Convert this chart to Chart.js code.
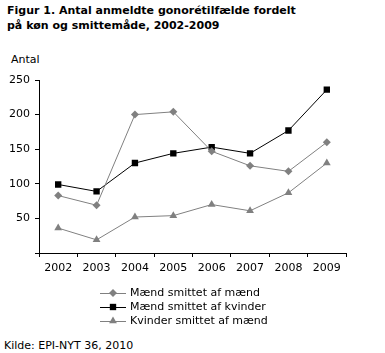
<!DOCTYPE html>
<html><head><meta charset="utf-8">
<script src="https://cdn.jsdelivr.net/npm/chart.js@4/dist/chart.umd.min.js"></script>
<style>
html,body{margin:0;padding:0;background:#fff;}
body{width:385px;height:353px;position:relative;overflow:hidden;font-family:"DejaVu Sans",Verdana,sans-serif;}
#t{position:absolute;left:7px;top:3px;font-weight:bold;font-size:11px;line-height:15px;color:#000;}
#a{position:absolute;left:11px;top:53px;font-size:11px;color:#000;}
#k{position:absolute;left:4px;top:339px;font-size:11px;color:#000;}
#c{position:absolute;left:0;top:0;}
</style></head><body>
<div id="t">Figur 1. Antal anmeldte gonorétilfælde fordelt<br>på køn og smittemåde, 2002-2009</div>
<div id="a">Antal</div>
<div id="k">Kilde: EPI-NYT 36, 2010</div>
<canvas id="c" width="385" height="353"></canvas>
<script>
const years = ["2002","2003","2004","2005","2006","2007","2008","2009"];
const maendAfMaend = [83, 69, 200, 204, 147, 126, 118, 160];
const maendAfKvinder = [99, 89, 130, 144, 153, 144, 177, 236];
const kvinderAfMaend = [36, 19, 52, 54, 70, 61, 87, 130];
const seriesNames = ["Mænd smittet af mænd", "Mænd smittet af kvinder", "Kvinder smittet af mænd"];
const yTicks = [0, 50, 100, 150, 200, 250];

const legendPlugin = {
  id: 'customLegend',
  afterDraw(chart) {
    const ctx = chart.ctx;
    const rows = [293, 307, 321];
    chart.data.datasets.forEach((ds, i) => {
      const y = rows[i];
      ctx.save();
      ctx.strokeStyle = ds.borderColor; ctx.lineWidth = 1;
      ctx.beginPath(); ctx.moveTo(100, y + 0.5); ctx.lineTo(126, y + 0.5); ctx.stroke();
      ctx.fillStyle = ds.pointBackgroundColor;
      const x = 113, r = ds.pointRadius;
      ctx.beginPath();
      if (ds.pointStyle === 'rectRot') {
        ctx.moveTo(x - r, y); ctx.lineTo(x, y - r); ctx.lineTo(x + r, y); ctx.lineTo(x, y + r);
      } else if (ds.pointStyle === 'rect') {
        const s = r * Math.SQRT1_2; ctx.rect(x - s, y - s, 2 * s, 2 * s);
      } else {
        ctx.moveTo(x, y - r);
        ctx.lineTo(x + Math.sin(2*Math.PI/3) * r, y - Math.cos(2*Math.PI/3) * r);
        ctx.lineTo(x + Math.sin(4*Math.PI/3) * r, y - Math.cos(4*Math.PI/3) * r);
      }
      ctx.closePath(); ctx.fill();
      ctx.fillStyle = '#000';
      ctx.font = '11px "DejaVu Sans", Verdana, sans-serif';
      ctx.textBaseline = 'middle'; ctx.textAlign = 'left';
      ctx.fillText(ds.label, 130, y);
      ctx.restore();
    });
  }
};

new Chart(document.getElementById('c'), {
  type: 'line',
  data: {
    labels: years,
    datasets: [
      { label: seriesNames[0], data: maendAfMaend, borderColor: '#808080', backgroundColor: '#808080',
        pointBackgroundColor: '#808080', pointBorderWidth: 0, pointStyle: 'rectRot', pointRadius: 4, borderWidth: 1 },
      { label: seriesNames[1], data: maendAfKvinder, borderColor: '#000000', backgroundColor: '#000000',
        pointBackgroundColor: '#000000', pointBorderWidth: 0, pointStyle: 'rect', pointRadius: 4.5, borderWidth: 1 },
      { label: seriesNames[2], data: kvinderAfMaend, borderColor: '#808080', backgroundColor: '#808080',
        pointBackgroundColor: '#808080', pointBorderWidth: 0, pointStyle: 'triangle', pointRadius: 4.5, borderWidth: 1 }
    ]
  },
  options: {
    responsive: false, animation: false, devicePixelRatio: 1,
    layout: { padding: { left: 0, right: 39, top: 80, bottom: 0 } },
    plugins: { legend: { display: false }, tooltip: { enabled: false }, title: { display: false } },
    elements: { line: { tension: 0 } },
    scales: {
      x: {
        offset: true,
        grid: { display: true, offset: true, drawOnChartArea: false, drawTicks: true, tickLength: 4, color: '#000' },
        border: { display: true, color: '#000', width: 1 },
        ticks: { color: '#000', font: { family: '"DejaVu Sans", Verdana, sans-serif', size: 11 }, padding: 5, maxRotation: 0, autoSkip: false },
        afterFit(s) { s.height = 100; }
      },
      y: {
        min: 0, max: 250,
        afterBuildTicks(s) { s.ticks = yTicks.map(v => ({ value: v })); },
        grid: { display: true, drawOnChartArea: false, drawTicks: true, tickLength: 4, color: '#000' },
        border: { display: true, color: '#000', width: 1 },
        ticks: { color: '#000', font: { family: '"DejaVu Sans", Verdana, sans-serif', size: 11 }, padding: 5,
          callback: (v) => v === 0 ? '' : String(v) },
        afterFit(s) { s.width = 39; }
      }
    }
  },
  plugins: [legendPlugin]
});
</script>
</body></html>
